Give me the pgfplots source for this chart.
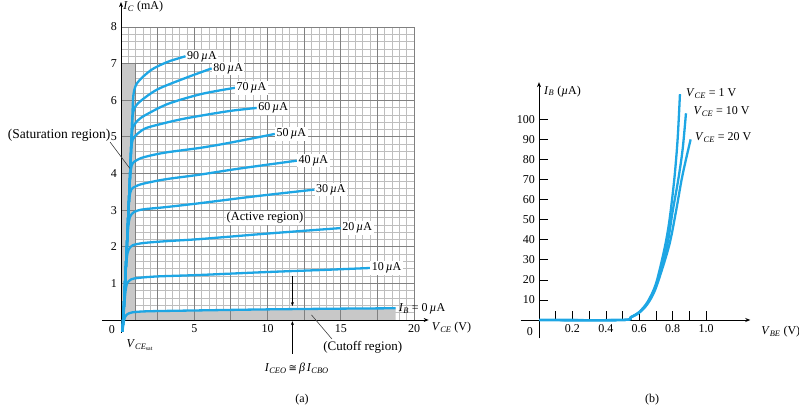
\documentclass[border=0pt]{standalone}
\usepackage{fontspec}
\setmainfont{Liberation Serif}
\newfontfamily\dejavu{DejaVu Sans}
\usepackage{pgfplots}
\pgfplotsset{compat=1.18}
\usetikzlibrary{arrows.meta}
\definecolor{cblue}{RGB}{30,166,228}
\definecolor{fillgray}{RGB}{200,200,200}
\definecolor{majgrid}{RGB}{128,128,128}
\definecolor{mingrid}{RGB}{190,190,190}
\newcommand{\iv}[1]{\textit{#1}}
\newcommand{\ua}{\,\textit{µ}A}
\pgfplotsset{bc/.style={cblue, line width=2.3bp, mark=none, smooth, tension=0.5}}
\begin{document}
\fontsize{12bp}{14bp}\selectfont
\begin{tikzpicture}
\path[use as bounding box] (0bp,0bp) rectangle (799bp,407bp);
% ---------------- (a) ----------------
\begin{axis}[at={(121bp,87bp)}, anchor=south west, scale only axis,
  width=293bp, height=293bp, xmin=0, xmax=20, ymin=0, ymax=8, clip=false,
  axis line style={draw=none}, major tick length=0pt, minor tick length=0pt,
  xtick={5,10,15,20}, ytick={1,2,3,4,5,6,7,8},
  /pgf/number format/assume math mode=true,
  tick label style={font=\fontsize{12bp}{14bp}\selectfont}]
% minor grid
\pgfplotsinvokeforeach{0.5,1,1.5,2,3,3.5,4,4.5,5.5,6,6.5,7,8,8.5,9,9.5,10.5,11,11.5,12,13,13.5,14,14.5,15.5,16,16.5,17,18,18.5,19,19.5}{
  \draw[mingrid, line width=0.5bp] (axis cs:#1,0) -- (axis cs:#1,8);}
\pgfplotsinvokeforeach{0.2,0.4,0.6,0.8,1.2,1.4,1.6,1.8,2.2,2.4,2.6,2.8,3.2,3.4,3.6,3.8,4.2,4.4,4.6,4.8,5.2,5.4,5.6,5.8,6.2,6.4,6.6,6.8,7.2,7.4,7.6,7.8}{
  \draw[mingrid, line width=0.5bp] (axis cs:0,#1) -- (axis cs:20,#1);}
% shaded regions
\addplot[fill=fillgray, draw=none, mark=none, sharp plot] coordinates {(0,0)(0.95,0)(0.95,7)(0,7)} --cycle;
\addplot[fill=fillgray, draw=none, mark=none, sharp plot] coordinates {(0.25,0)(0.35,0.12)(0.6,0.19)(1.0,0.22)(2,0.24)(5,0.26)(10,0.29)(15,0.31)(18.75,0.32)(18.75,0)} --cycle;
% major grid
\pgfplotsinvokeforeach{2.5,5,7.5,10,12.5,15,17.5,20}{
  \draw[majgrid, line width=0.8bp] (axis cs:#1,0) -- (axis cs:#1,8);}
\pgfplotsinvokeforeach{1,2,3,4,5,6,7,8}{
  \draw[majgrid, line width=0.8bp] (axis cs:0,#1) -- (axis cs:20,#1);}
\draw[majgrid, line width=0.8bp] (axis cs:0,7) -- (axis cs:0.95,7) -- (axis cs:0.95,0);
% axes
\draw[-{Stealth[length=5bp,width=4bp]}, line width=0.8bp] (axis cs:-1.3,0) -- (axis cs:21.0,0);
\draw[-{Stealth[length=5bp,width=4bp]}, line width=0.8bp] (axis cs:0,-0.35) -- (axis cs:0,8.68);
% curves
\addplot[bc] coordinates {(0.1,-0.32)(0.2,-0.02)(0.35,0.13)(0.6,0.19)(1.0,0.22)(2,0.24)(5,0.26)(10,0.29)(15,0.31)(18.75,0.32)};
\addplot[bc] coordinates {(0.1,-0.32)(0.2,0.25)(0.3,0.75)(0.42,1.0)(0.7,1.11)(1.2,1.15)(2.5,1.19)(5.4,1.23)(10,1.31)(14,1.37)(17,1.42)};
\addplot[bc] coordinates {(0.1,-0.32)(0.2,0.4)(0.3,1.2)(0.4,1.7)(0.52,1.92)(0.8,2.04)(1.5,2.1)(3,2.15)(5.4,2.21)(10,2.36)(15,2.51)};
\addplot[bc] coordinates {(0.1,-0.32)(0.2,0.4)(0.3,1.2)(0.4,2.0)(0.5,2.55)(0.62,2.82)(0.9,2.95)(1.5,3.02)(3,3.08)(5.4,3.19)(9,3.37)(13.2,3.56)};
\addplot[bc] coordinates {(0.1,-0.32)(0.2,0.4)(0.3,1.2)(0.4,2.0)(0.5,2.9)(0.58,3.35)(0.7,3.56)(1.0,3.65)(1.5,3.72)(3,3.84)(5.4,3.97)(8,4.13)(12,4.35)};
\addplot[bc] coordinates {(0.1,-0.32)(0.2,0.4)(0.3,1.2)(0.4,2.0)(0.5,2.9)(0.6,3.75)(0.68,4.12)(0.8,4.28)(1.1,4.37)(1.6,4.45)(3,4.57)(5.4,4.7)(7.3,4.83)(10.5,5.08)};
\addplot[bc] coordinates {(0.1,-0.32)(0.2,0.4)(0.3,1.2)(0.4,2.0)(0.5,2.9)(0.6,3.8)(0.7,4.65)(0.8,4.93)(1.0,5.04)(1.6,5.22)(2.5,5.33)(4.35,5.5)(7.3,5.7)(9.26,5.79)};
\addplot[bc] coordinates {(0.1,-0.32)(0.2,0.4)(0.3,1.2)(0.4,2.0)(0.5,2.9)(0.6,3.8)(0.7,4.8)(0.77,5.18)(0.9,5.33)(1.1,5.43)(1.6,5.58)(3.2,5.9)(5.48,6.17)(7.78,6.34)};
\addplot[bc] coordinates {(0.1,-0.32)(0.2,0.4)(0.3,1.2)(0.4,2.0)(0.5,2.9)(0.6,3.8)(0.7,4.8)(0.77,5.45)(0.85,5.7)(1.0,5.84)(1.4,6.0)(2.5,6.3)(4.35,6.6)(6.19,6.87)};
\addplot[bc] coordinates {(0.1,-0.32)(0.2,0.4)(0.3,1.2)(0.4,2.0)(0.5,2.9)(0.6,3.8)(0.7,4.8)(0.77,5.5)(0.82,6.0)(0.9,6.27)(1.16,6.5)(2.07,6.83)(3.2,7.05)(4.4,7.2)};
% curve labels
\tikzset{cl/.style={anchor=west, inner sep=1.5bp, fill=white, text=black}}
\node[cl] at (axis cs:4.4,7.2) {90\ua};
\node[cl] at (axis cs:6.19,6.87) {80\ua};
\node[cl] at (axis cs:7.78,6.34) {70\ua};
\node[cl] at (axis cs:9.26,5.79) {60\ua};
\node[cl] at (axis cs:10.5,5.08) {50\ua};
\node[cl] at (axis cs:12,4.35) {40\ua};
\node[cl] at (axis cs:13.2,3.56) {30\ua};
\node[cl] at (axis cs:15,2.51) {20\ua};
\node[cl] at (axis cs:17,1.42) {10\ua};
\node[anchor=west, inner sep=1.5bp] at (axis cs:18.85,0.3) {\iv{I}\textsubscript{\iv{B}} = 0\ua};
% texts
\node[anchor=west, inner sep=0pt] at (axis cs:0.15,8.55) {\iv{I}\textsubscript{\iv{C}} (mA)};
\node[anchor=west, inner sep=0pt] at (axis cs:21.2,-0.2) {\iv{V}\textsubscript{\iv{CE}} (V)};
\node[inner sep=0pt] at (axis cs:-0.63,-0.27) {0};
\node[fill=white, inner sep=1bp, font=\fontsize{12.5bp}{14bp}\selectfont] at (axis cs:9.83,2.79) {(Active region)};
\node[anchor=east, inner sep=0pt, font=\fontsize{13.5bp}{15bp}\selectfont] at (axis cs:-0.72,5.05) {(Saturation region)};
\draw[gray!50!black, line width=0.6bp] (axis cs:-0.75,4.86) -- (axis cs:0.6,4.14);
\node[inner sep=0pt, font=\fontsize{13bp}{15bp}\selectfont] at (axis cs:16.5,-0.74) {(Cutoff region)};
\draw[gray!50!black, line width=0.6bp] (axis cs:13.0,0.14) -- (axis cs:14.4,-0.52);
\node[inner sep=0pt] at (axis cs:12.0,-1.32) {\iv{I}\textsubscript{\iv{CEO}}\,{\dejavu\fontsize{10bp}{12bp}\selectfont ≅}\,\iv{β}\,\iv{I}\textsubscript{\iv{CBO}}};
\draw[-{Stealth[length=4bp,width=3bp]}, line width=0.6bp] (axis cs:11.7,1.2) -- (axis cs:11.7,0.38);
\draw[-{Stealth[length=4bp,width=3bp]}, line width=0.6bp] (axis cs:11.7,-0.92) -- (axis cs:11.7,-0.03);
\node[inner sep=0pt] at (axis cs:1.3,-0.68) {\iv{V}\textsubscript{\iv{CE}\textsubscript{sat}}};
\end{axis}
% ---------------- (b) ----------------
\begin{axis}[at={(539bp,87bp)}, anchor=south west, scale only axis,
  width=167bp, height=200.7bp, xmin=0, xmax=1, ymin=0, ymax=100, clip=false,
  axis line style={draw=none}, tick pos=left, tick align=inside,
  major tick length=9bp, tick style={black, line width=0.6bp},
  xtick={0.1,0.2,0.3,0.4,0.5,0.6,0.7,0.8,0.9,1.0},
  xticklabels={,0.2,,0.4,,0.6,,0.8,,1.0},
  ytick={10,20,30,40,50,60,70,80,90,100},
  /pgf/number format/assume math mode=true,
  tick label style={font=\fontsize{12bp}{14bp}\selectfont}]
\draw[-{Stealth[length=5bp,width=4bp]}, line width=0.8bp] (axis cs:-0.11,0) -- (axis cs:1.265,0);
\draw[-{Stealth[length=5bp,width=4bp]}, line width=0.8bp] (axis cs:0,-9) -- (axis cs:0,118.5);
\addplot[bc] coordinates {(0,0)(0.5,0)(0.55,1.5)(0.6,4)(0.65,9)(0.7,18)(0.75,35)(0.78,49)(0.81,70)(0.83,90)(0.844,112.5)};
\addplot[bc] coordinates {(0,0)(0.5,0)(0.55,1.4)(0.6,3.8)(0.65,8.5)(0.7,17)(0.766,36.7)(0.80,54)(0.834,70)(0.86,85)(0.88,103)};
\addplot[bc] coordinates {(0,0)(0.5,0)(0.55,1.3)(0.6,3.6)(0.65,8)(0.7,16)(0.778,36.7)(0.82,54)(0.854,70)(0.88,80)(0.908,90)};
\node[anchor=west, inner sep=0pt] at (axis cs:0.88,113) {\iv{V}\textsubscript{\iv{CE}} = 1 V};
\node[anchor=west, inner sep=0pt] at (axis cs:0.924,103.8) {\iv{V}\textsubscript{\iv{CE}} = 10 V};
\node[anchor=west, inner sep=0pt] at (axis cs:0.934,90.8) {\iv{V}\textsubscript{\iv{CE}} = 20 V};
\node[anchor=west, inner sep=0pt] at (axis cs:0.03,114) {\iv{I}\textsubscript{\iv{B}} (\iv{µ}A)};
\node[anchor=west, inner sep=0pt] at (axis cs:1.33,-6) {\iv{V}\textsubscript{\iv{BE}} (V)};
\node[inner sep=0pt] at (axis cs:-0.055,-6) {0};
\end{axis}
\node at (302bp,7bp) {(a)};
\node at (652bp,7bp) {(b)};
\end{tikzpicture}
\end{document}
